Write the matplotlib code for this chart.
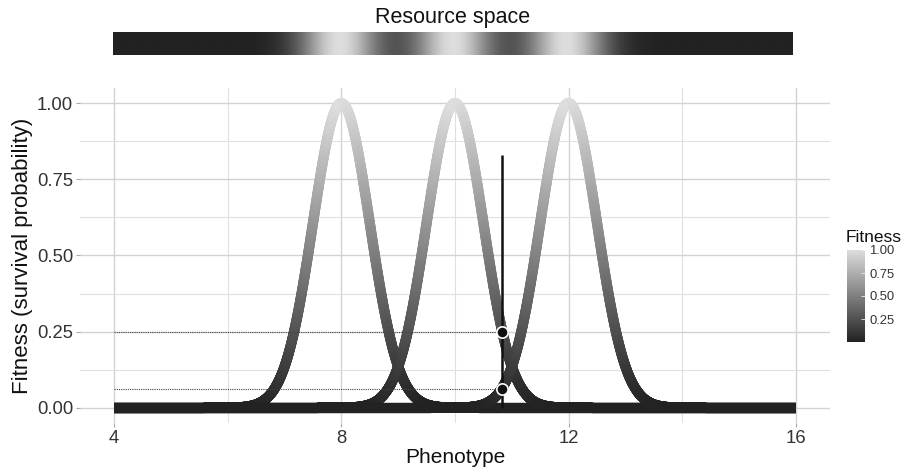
import numpy as np
import matplotlib.pyplot as plt
from matplotlib.collections import LineCollection
from matplotlib.colors import LinearSegmentedColormap, Normalize
from matplotlib.cm import ScalarMappable
from matplotlib.patches import Rectangle

plt.rcParams['font.family'] = ['Liberation Sans', 'DejaVu Sans']

# optimum phenotype of each niche, and width (sd) of the fitness curves
optima = [8, 10, 12]
width = 0.5
x_range = [4, 16]

# focal phenotype and the two fitness values marked on the curves
focal_x = 10.83
focal_fitness = [0.25, 0.0625]
focal_line_top = 0.83

x_ticks = [4, 8, 12, 16]
y_ticks = [0.00, 0.25, 0.50, 0.75, 1.00]
y_tick_labels = ['0.00', '0.25', '0.50', '0.75', '1.00']
legend_ticks = [0.25, 0.50, 0.75, 1.00]
legend_labels = ['0.25', '0.50', '0.75', '1.00']

cmap = LinearSegmentedColormap.from_list('fit', ['#222222', '#dddddd'])
norm = Normalize(0, 1)


def fitness(x, opt):
    return np.exp(-(x - opt) ** 2 / (2 * width ** 2))


fig = plt.figure(figsize=(9.04, 4.68), dpi=100)
ax = fig.add_axes([80 / 904, 45 / 468, 750 / 904, 335 / 468])

xs = np.linspace(x_range[0], x_range[1], 3000)
for opt in optima:
    ys = fitness(xs, opt)
    pts = np.column_stack([xs, ys]).reshape(-1, 1, 2)
    segs = np.concatenate([pts[:-1], pts[1:]], axis=1)
    lc = LineCollection(segs, cmap=cmap, norm=norm, linewidths=7.4, capstyle='round', zorder=3)
    lc.set_array((ys[:-1] + ys[1:]) / 2)
    ax.add_collection(lc)
    # cut the round caps at both ends of the phenotype range
    clip = Rectangle((x_range[0], -0.3), x_range[1] - x_range[0], 1.6, transform=ax.transData)
    lc.set_clip_path(clip)

# dotted guides to the fitness values of the focal phenotype
for f in focal_fitness:
    ax.plot([x_range[0], focal_x], [f, f], ls=(0, (1, 1)), color='#444444', lw=0.8, zorder=4)
ax.plot([focal_x, focal_x], [0, focal_line_top], color='#111111', lw=1.8,
        solid_capstyle='butt', zorder=5)
ax.scatter([focal_x] * len(focal_fitness), focal_fitness, s=66, color='#111111',
           edgecolors='white', linewidths=1.2, zorder=6)

ax.set_xlim(3.4, 16.6)
ax.set_ylim(-0.05, 1.05)
ax.set_xticks(x_ticks)
ax.set_xticks([6, 10, 14], minor=True)
ax.set_yticks(y_ticks)
ax.set_yticklabels(y_tick_labels)
ax.set_yticks([0.125, 0.375, 0.625, 0.875], minor=True)
ax.grid(True, which='major', color='#d2d2d2', lw=1.0, zorder=0)
ax.grid(True, which='minor', color='#e0e0e0', lw=0.8, zorder=0)
ax.set_axisbelow(True)
for s in ax.spines.values():
    s.set_visible(False)
ax.tick_params(which='major', length=3, width=0.8, color='#aaaaaa', labelsize=13.3,
               labelcolor='#333333', pad=2)
ax.tick_params(which='minor', length=0)
ax.set_xlabel('Phenotype', fontsize=15, color='#111111', labelpad=1)
ax.set_ylabel('Fitness (survival probability)', fontsize=16, color='#111111', labelpad=3)

# resource space bar on top
bax = fig.add_axes([113 / 904, 1 - 55 / 468, 680 / 904, 23 / 468])
resource = np.clip(sum(fitness(xs, o) for o in optima), 0, 1)
bax.imshow(resource[np.newaxis, :], aspect='auto', cmap=cmap, norm=norm,
           extent=[x_range[0], x_range[1], 0, 1])
bax.axis('off')
fig.text(453 / 904, 1 - 17 / 468, 'Resource space', ha='center', va='center',
         fontsize=15.5, color='#111111')

# colour legend
cax = fig.add_axes([847 / 904, 1 - 342 / 468, 18 / 904, 92 / 468])
cb = fig.colorbar(ScalarMappable(norm=norm, cmap=cmap), cax=cax, ticks=legend_ticks)
cb.set_ticklabels(legend_labels)
cb.outline.set_visible(False)
cax.tick_params(length=3, width=0.6, color='#eeeeee', direction='in', labelsize=9.4,
                labelcolor='#333333', pad=3)
fig.text(846 / 904, 1 - 242 / 468, 'Fitness', ha='left', va='baseline', fontsize=12.5,
         color='#111111')

fig.savefig('out.png', dpi=100)
